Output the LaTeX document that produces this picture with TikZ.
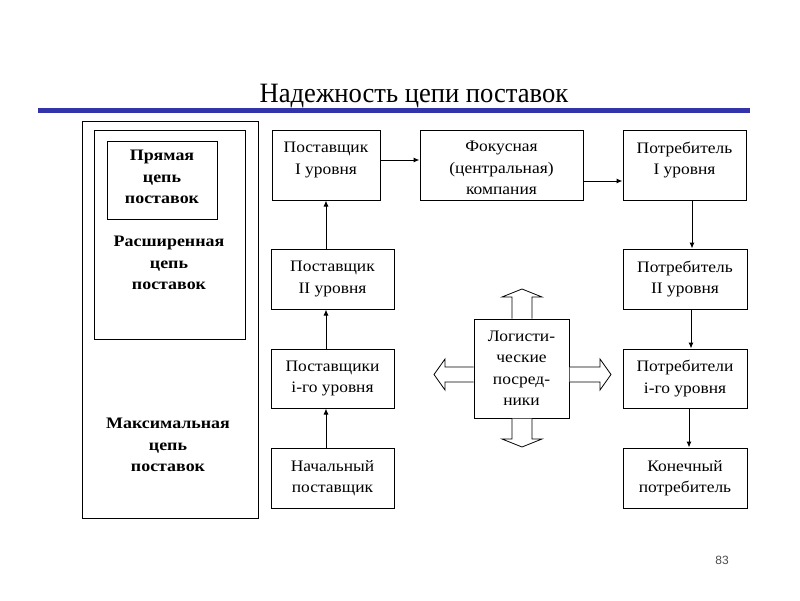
\documentclass[tikz,border=0pt]{standalone}
\usepackage{fontspec}
\setmainfont{Liberation Serif}
\newfontfamily\titlefont[FakeStretch=0.95]{Liberation Serif}
\newfontfamily\boxfont[FakeStretch=1.09]{Liberation Serif}
\newfontfamily\boldfont[FakeStretch=1.12]{Liberation Serif Bold}
\newfontfamily\numfont{Liberation Sans}
\usetikzlibrary{arrows.meta,calc}
\definecolor{barblue}{RGB}{51,51,170}
\begin{document}
\begin{tikzpicture}[x=1pt,y=-1pt,
  box/.style={draw,line width=1pt,inner sep=0pt,align=center,font=\boxfont\fontsize{16}{21.5}\selectfont},
  txt/.style={inner sep=0pt,align=center,font=\boxfont\fontsize{16}{21.5}\selectfont},
  frame/.style={draw,line width=1pt,inner sep=0pt},
  btext/.style={align=center,font=\boldfont\fontsize{16}{21.5}\selectfont,inner sep=0pt},
  arr/.style={line width=1pt,-{Latex[length=6pt,width=5pt]}},
  blk/.style={draw,line width=0.8pt,fill=white}]
\useasboundingbox (0,0) rectangle (800,600);
% title
\node[font=\titlefont\fontsize{28}{30}\selectfont,anchor=base] (title) at (414,102) {Надежность цепи поставок};
\fill[barblue] (38,107.5) rectangle (750,113);
% left nested frames
\node[frame,minimum width=176pt,minimum height=397pt] (maxf) at (170,319.5) {};
\node[frame,minimum width=151pt,minimum height=209pt] (extf) at (169.5,234.5) {};
\node[frame,minimum width=110pt,minimum height=78pt] (dirf) at (162,180) {};
\node[btext] (dirt) at (162,177) {Прямая\\цепь\\поставок};
\node[btext] (extt) at (169,263) {Расширенная\\цепь\\поставок};
\node[btext] (maxt) at (168,445) {Максимальная\\цепь\\поставок};
% boxes
\node[box,minimum width=108pt,minimum height=70pt] (S1) at (326,165) {};
\node[txt] (S1t) at ([yshift=5pt]S1.center) {Поставщик\\I уровня};
\node[box,minimum width=163pt,minimum height=70pt] (F) at (501.5,165) {};
\node[txt] (Ft) at ([yshift=-3pt]F.center) {Фокусная\\(центральная)\\компания};
\node[box,minimum width=123pt,minimum height=70pt] (C1) at (684.5,165) {};
\node[txt] (C1t) at ([yshift=5pt]C1.center) {Потребитель\\I уровня};
\node[box,minimum width=123pt,minimum height=60pt] (S2) at (332.5,279) {Поставщик\\II уровня};
\node[box,minimum width=124pt,minimum height=60pt] (C2) at (685,279) {Потребитель\\II уровня};
\node[box,minimum width=123pt,minimum height=59pt] (Si) at (332.5,378.5) {Поставщики\\i-го уровня};
\node[box,minimum width=124pt,minimum height=59pt] (Ci) at (685,378.5) {Потребители\\i-го уровня};
\node[box,minimum width=123pt,minimum height=60pt] (S0) at (332.5,478) {Начальный\\поставщик};
\node[box,minimum width=124pt,minimum height=60pt] (C0) at (685,478) {Конечный\\потребитель};
\node[box,minimum width=95pt,minimum height=99pt] (L) at (521.5,368.5) {Логисти-\\ческие\\посред-\\ники};
% arrows
\draw[arr] ([yshift=5pt]S1.east) -- ([yshift=5pt]S1.east -| F.west);
\draw[arr] ([yshift=-16pt]F.east) -- ([yshift=-16pt]F.east -| C1.west);
\draw[arr] (S2.north -| S1.south) -- (S1.south);
\draw[arr] (Si.north -| S1.south) -- (S2.south -| S1.south);
\draw[arr] (S0.north -| S1.south) -- (Si.south -| S1.south);
\draw[arr] ([xshift=7.5pt]C1.south) -- ([xshift=7.5pt]C1.south |- C2.north);
\draw[arr] ([xshift=6pt]C2.south) -- ([xshift=6pt]C2.south |- Ci.north);
\draw[arr] ([xshift=4pt]Ci.south) -- ([xshift=4pt]Ci.south |- C0.north);
% block arrows
\draw[blk] (512,318.5) -- (512,297) -- (502,297) -- (522,289) -- (542,297) -- (532,297) -- (532,318.5);
\draw[blk] (512,418.5) -- (512,439) -- (502,439) -- (522,447) -- (542,439) -- (532,439) -- (532,418.5);
\draw[blk] (473.5,367) -- (445,367) -- (445,359) -- (434,374.5) -- (445,390) -- (445,382) -- (473.5,382);
\draw[blk] (569.5,367) -- (600,367) -- (600,359) -- (611,374.5) -- (600,390) -- (600,382) -- (569.5,382);
% page number
\node[font=\numfont\fontsize{12}{14}\selectfont,text=black!70] (pg) at (722,560) {83};
\end{tikzpicture}
\end{document}
